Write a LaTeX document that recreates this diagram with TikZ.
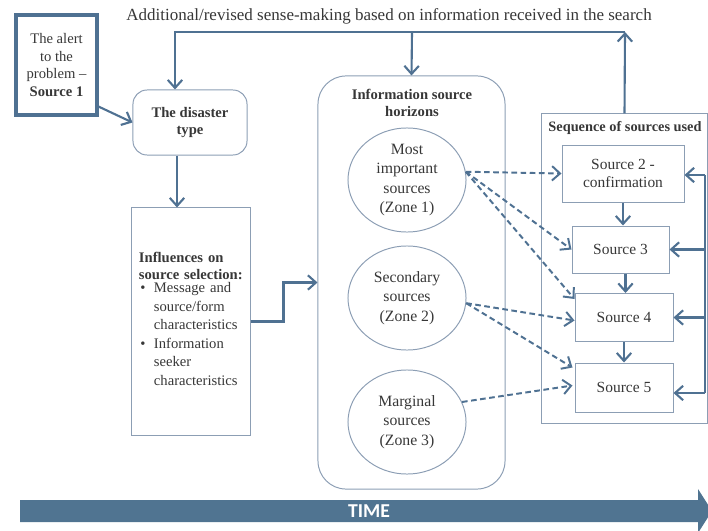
\documentclass[tikz,border=0pt]{standalone}
\usepackage{fontspec}
\setmainfont{Liberation Serif}
\newfontfamily\timefont{Carlito}
\usetikzlibrary{arrows.meta,calc,shapes.geometric}
\definecolor{linkblue}{RGB}{79,113,146}
\definecolor{framegray}{RGB}{140,158,180}
\definecolor{txtgray}{RGB}{55,55,55}
\definecolor{bandblue}{RGB}{80,116,145}

\begin{document}
\begin{tikzpicture}[x=0.025cm, y=-0.025cm,
  font=\fontsize{10.4}{12.6}\selectfont, text=txtgray,
  arr/.style={-{Straight Barb[length=2mm,width=3.6mm]}, line width=1.5pt, linkblue},
  darr/.style={-{Straight Barb[length=2mm,width=3.6mm]}, line width=1.4pt, linkblue,
               dash pattern=on 4pt off 2.5pt},
  link/.style={line width=1.5pt, linkblue},
  sbox/.style={draw=framegray, line width=0.7pt, inner sep=0pt, align=center},
  rbox/.style={sbox, rounded corners=10pt},
  zone/.style={draw=framegray, line width=0.7pt, ellipse, inner sep=0pt,
               minimum width=2.95cm, minimum height=2.6cm, align=center,
               font=\fontsize{11.2}{13.8}\selectfont},
  srcbox/.style={sbox, font=\fontsize{11}{13.4}\selectfont},
]
\useasboundingbox (0,0) rectangle (708,531);

% top caption
\node[font=\fontsize{12.1}{14}\selectfont] (note) at (389,16)
  {Additional/revised sense-making based on information received in the search};

% left column
\node[sbox, draw=linkblue, line width=2.2pt, minimum width=2.025cm, minimum height=2.5cm]
  (alert) at (56.5,65) {The alert\\to the\\problem --\\\textbf{Source 1}};
\node[rbox, minimum width=2.85cm, minimum height=1.625cm, font=\fontsize{10.4}{12.6}\selectfont\bfseries]
  (dtype) at (190,122.5) {The disaster\\type};
\node[sbox, minimum width=2.95cm, minimum height=5.675cm, text width=2.6cm, align=left]
  (infl) at (191,321.5)
  {\textbf{Influences on}\\\textbf{source selection:}\\[-1.5pt]
   {\setlength{\tabcolsep}{0pt}\renewcommand{\arraystretch}{1.05}%
   \begin{tabular}{@{}p{0.375cm}@{}l@{}}
   \hspace{1pt}\textbullet & Message and\\
                           & source/form\\
                           & characteristics\\
   \hspace{1pt}\textbullet & Information\\
                           & seeker\\
                           & characteristics
   \end{tabular}}};

% information source horizons
\node[rbox, rounded corners=20pt, minimum width=4.675cm, minimum height=10.325cm]
  (horizons) at (411.5,282.5) {};
\node[font=\fontsize{10.4}{12.6}\selectfont\bfseries, align=center]
  (hztitle) at (412,103) {Information source\\horizons};
\node[zone] (e1) at (407,180) {Most\\important\\sources\\(Zone 1)};
\node[zone] (e2) at (407,298) {Secondary\\sources\\(Zone 2)};
\node[zone] (e3) at (407,422) {Marginal\\sources\\(Zone 3)};

% sequence of sources
\node[sbox, minimum width=4.125cm, minimum height=7.725cm] (seq) at (624.5,268.5) {};
\node[font=\fontsize{10.2}{12}\selectfont\bfseries] (seqtitle) at (625,128) {Sequence of sources used};
\node[srcbox, minimum width=3.05cm,  minimum height=1.425cm] (s2) at (623,173.5)  {Source 2 -\\confirmation};
\node[srcbox, minimum width=2.425cm, minimum height=1.175cm] (s3) at (620.5,249.5) {Source 3};
\node[srcbox, minimum width=2.45cm,  minimum height=1.2cm]   (s4) at (624,317.5)  {Source 4};
\node[srcbox, minimum width=2.45cm,  minimum height=1.225cm] (s5) at (624,387.5)  {Source 5};

% time band
\fill[bandblue] (20,500) -- (698,500) -- (698,489) -- (712,511) -- (698,533)
  -- (698,522) -- (20,522) -- cycle;
\node[text=white, font=\timefont\bfseries\fontsize{14}{16}\selectfont] (time) at (369,511) {TIME};

% connectors
\coordinate (topR) at (625,32);
\coordinate (topM) at (412,32);
\coordinate (fbT) at (705,175);
\coordinate (fbB) at (705,393);

\draw[arr] ($(alert.south east)+(0,-10)$) -- (dtype.west);
\draw[arr] ($(dtype.south)+(-13,0)$) -- ($(infl.north)+(-14,0)$);
\draw[arr] (infl.east) -- ++(33,0) |- (horizons.west);
\draw[arr] (seq.north) -- (topR);
\draw[arr] (topR) -| ($(dtype.north)+(-15,0)$);
\draw[arr] (topM) -- (horizons.north);

\draw[arr] (s2.south) -- (s2.south |- s3.north);
\draw[arr] ($(s3.south)+(5,0)$) -- ($(s4.north)+(1.5,0)$);
\draw[arr] (s4.south) -- (s5.north);
\draw[link] (fbB) -- (fbT);
\draw[arr] (fbT) -- (fbT -| s2.east);
\draw[arr] (fbT |- s3.east) -- (s3.east);
\draw[arr] (fbT |- s4.east) -- (s4.east);
\draw[arr] (fbB) -- (fbB -| s5.east);

\draw[darr] (e1.8) -- (s2.west);
\draw[darr] (e1.8) -- (s3.west);
\draw[darr] (e1.8) -- ($(s4.north west)+(0,6)$);
\draw[darr] (e2.-5) -- ($(s4.west)+(0,3)$);
\draw[darr] (e2.-5) -- ($(s5.north west)+(-2,5)$);
\draw[darr] (e3.20) -- ($(s5.west)+(-2,-2)$);
\end{tikzpicture}
\end{document}
